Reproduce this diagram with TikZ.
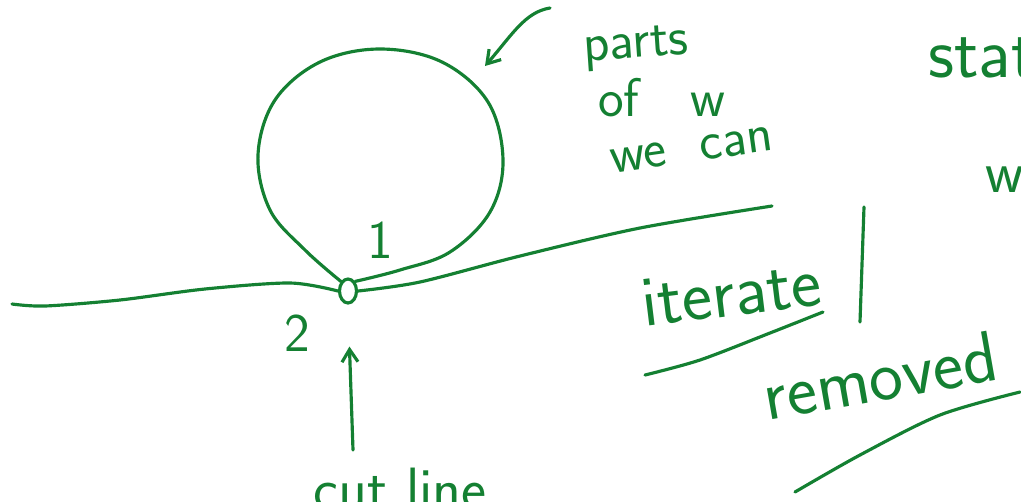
\documentclass[tikz,border=0pt]{standalone}
\usetikzlibrary{arrows.meta,positioning,shapes.geometric}
\definecolor{inkgreen}{RGB}{20,128,50}
\tikzset{
  ink/.style={draw=inkgreen, line width=1.8pt, line cap=round, line join=round},
  inkarrow/.style={ink, -{Straight Barb[length=2.5mm, width=3.2mm]}},
  scrawl/.style={text=inkgreen, inner sep=0pt, font=\sffamily\fontsize{34}{38}\selectfont},
  bigscrawl/.style={scrawl, font=\sffamily\fontsize{41}{46}\selectfont},
  smallscrawl/.style={scrawl, font=\sffamily\fontsize{31}{34}\selectfont},
  knotmark/.style={ellipse, draw=inkgreen, line width=1.8pt, minimum width=0.34cm,
                   minimum height=0.48cm, inner sep=0pt},
}

\begin{document}
\begin{tikzpicture}[x=0.02cm, y=-0.02cm]
  \useasboundingbox (0,0) rectangle (1021,501);
  \clip (0,0) rectangle (1021,501);

  % knot with its loop
  \node[knotmark] (knot) at (348,291) {};
  \draw[ink] plot[smooth, tension=0.6] coordinates {(knot.north west) (305,250) (270,210)
    (258,155) (275,100) (320,62) (380,49) (442,62) (488,102) (503,160) (490,212)
    (450,252) (400,270) (knot.north east)};
  \draw[ink] plot[smooth, tension=0.5] coordinates {(12,304) (45,306) (120,300) (205,289)
    (290,283) (knot.west)};
  \draw[ink] plot[smooth, tension=0.5] coordinates {(knot.east) (420,282) (520,256)
    (640,228) (772,206)};
  \node[smallscrawl] (one) at (380,240) {1};
  \node[smallscrawl] (two) at (297,333) {2};

  % cut line label
  \node[scrawl, anchor=north] (cutline) at (400,468) {cut line};
  \coordinate (cuttail) at (353,450);
  \draw[inkarrow, shorten >=0.84cm] (cuttail) -- (knot.south);

  % note at the top
  \coordinate (wtail) at (550,8);
  \coordinate (whead) at (485,66);
  \draw[inkarrow] (wtail) .. controls (525,12) and (512,35) .. (whead);
  \node[smallscrawl, rotate=4] (parts) at (636,48) {parts};
  \node[smallscrawl] (ofw) at (662,98) {of\ \ \ w};
  \node[smallscrawl, rotate=8] (wecan) at (692,150) {we\ \ can};
  \node[bigscrawl, anchor=west] (stat) at (928,58) {state};
  \node[scrawl, anchor=west] (wcut) at (985,180) {w};

  % iterate / removed
  \node[bigscrawl, rotate=7] (iterate) at (731,293) {iterate};
  \draw[ink] plot[smooth, tension=0.5] coordinates {(645,375) (700,360) (770,333) (823,312)};
  \draw[ink] (864,207) -- (860,322);
  \node[bigscrawl, rotate=10] (removed) at (880,376) {removed};
  \draw[ink] plot[smooth, tension=0.5] coordinates {(795,492) (860,455) (940,415) (1020,392)};
\end{tikzpicture}
\end{document}
